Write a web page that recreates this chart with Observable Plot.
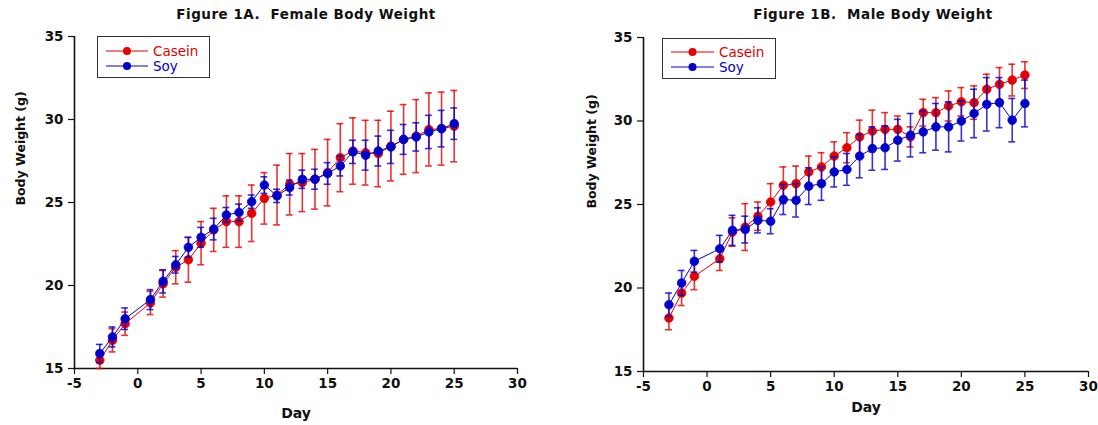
<!DOCTYPE html>
<html>
<head>
<meta charset="utf-8">
<script src="https://cdn.jsdelivr.net/npm/d3@7"></script>
<script src="https://cdn.jsdelivr.net/npm/@observablehq/plot@0.6"></script>
<style>
  html, body { margin: 0; padding: 0; background: #fff; }
  #wrap { position: relative; width: 1098px; height: 425px; overflow: hidden; font-family: "DejaVu Sans", sans-serif; }
  .panel { position: absolute; top: 0; width: 549px; height: 425px; }
  .panel svg { overflow: visible; }
  .title { position: absolute; top: 6px; transform: translateX(-50%); font: bold 13.5px "DejaVu Sans", sans-serif; letter-spacing: 0.5px; white-space: pre; color: #111; }
  .legend { position: absolute; border: 1.5px solid #333; background: #fff; box-sizing: border-box; }
  .item { position: absolute; left: 0; height: 14px; display: flex; align-items: center; font: 13.5px "DejaVu Sans", sans-serif; white-space: nowrap; }
  .item svg { display: block; }
</style>
</head>
<body>
<div id="wrap">
  <div id="A" class="panel" style="left:0"></div>
  <div id="B" class="panel" style="left:549px"></div>
  <div class="title" style="left:306px">Figure 1A.  Female Body Weight</div>
  <div class="title" style="left:873px">Figure 1B.  Male Body Weight</div>
  <div id="legA" class="legend" style="left:97px;top:36px;width:113px;height:42px"></div>
  <div id="legB" class="legend" style="left:662px;top:38px;width:114px;height:41px"></div>
</div>
<script>
// ---- data ----
const days = [-3, -2, -1, 1, 2, 3, 4, 5, 6, 7, 8, 9, 10, 11, 12, 13, 14, 15, 16, 17, 18, 19, 20, 21, 22, 23, 24, 25];

const femaleCasein    = [15.5, 16.7, 17.7, 18.95, 20.1, 21.1, 21.55, 22.55, 23.35, 23.85, 23.85, 24.35, 25.25, 25.45, 26.1, 26.2, 26.4, 26.8, 27.7, 28.1, 28.0, 27.95, 28.4, 28.8, 29.0, 29.4, 29.45, 29.6];
const femaleCaseinErr = [0.5, 0.7, 0.7, 0.7, 0.8, 1.0, 1.35, 1.3, 1.3, 1.55, 1.55, 1.7, 1.55, 1.8, 1.85, 1.75, 1.8, 2.0, 2.05, 2.0, 1.95, 2.0, 2.1, 2.1, 2.2, 2.2, 2.2, 2.15];
const femaleSoy       = [15.9, 16.9, 18.0, 19.15, 20.25, 21.25, 22.3, 22.9, 23.4, 24.25, 24.4, 25.05, 26.05, 25.4, 25.9, 26.4, 26.4, 26.75, 27.2, 28.05, 27.85, 28.1, 28.35, 28.8, 28.95, 29.25, 29.45, 29.75];
const femaleSoyErr    = [0.55, 0.6, 0.65, 0.6, 0.7, 0.5, 0.6, 0.6, 0.65, 0.45, 0.5, 0.4, 0.5, 0.4, 0.45, 0.55, 0.6, 0.65, 0.6, 0.7, 0.9, 0.9, 1.0, 0.9, 0.85, 1.0, 1.1, 0.95];

const maleCasein      = [18.2, 19.7, 20.7, 21.75, 23.35, 23.65, 24.3, 25.15, 26.15, 26.25, 26.95, 27.25, 27.9, 28.4, 29.05, 29.4, 29.5, 29.5, 29.05, 30.5, 30.5, 30.9, 31.15, 31.1, 31.9, 32.2, 32.45, 32.75];
const maleCaseinErr   = [0.7, 0.75, 0.8, 0.7, 0.85, 1.4, 0.85, 1.1, 1.1, 1.05, 0.95, 0.85, 0.85, 0.9, 1.0, 1.25, 1.0, 0.8, 0.6, 0.8, 0.9, 0.9, 0.85, 1.0, 0.9, 1.0, 0.95, 0.8];
const maleSoy         = [19.0, 20.3, 21.6, 22.35, 23.45, 23.5, 24.05, 24.0, 25.3, 25.25, 26.1, 26.25, 26.95, 27.1, 27.9, 28.35, 28.4, 28.85, 29.15, 29.35, 29.65, 29.65, 30.0, 30.45, 31.0, 31.1, 30.05, 31.05];
const maleSoyErr      = [0.7, 0.75, 0.65, 0.8, 0.9, 0.8, 0.75, 0.75, 0.9, 1.0, 1.1, 1.0, 0.9, 0.95, 1.3, 1.3, 1.3, 1.25, 1.3, 1.25, 1.4, 1.5, 1.2, 1.45, 1.6, 1.5, 1.3, 1.4];

const series = ["Casein", "Soy"];
const colors = ["#e60000", "#0000cc"];
const xTicks = [-5, 0, 5, 10, 15, 20, 25, 30];
const yTicks = [15, 20, 25, 30, 35];

function rows(vals, errs, name) {
  return days.map((d, i) => ({day: d, w: vals[i], lo: vals[i] - errs[i], hi: vals[i] + errs[i], s: name}));
}

function seriesMarks(data, color) {
  const cap = 0.27;
  return [
    Plot.line(data, {x: "day", y: "w", stroke: color, strokeWidth: 1}),
    Plot.ruleX(data, {x: "day", y1: "lo", y2: "hi", stroke: color, strokeWidth: 1.6, strokeOpacity: 0.8}),
    Plot.ruleY(data, {y: "hi", x1: d => d.day - cap, x2: d => d.day + cap, stroke: color, strokeWidth: 1.6, strokeOpacity: 0.8}),
    Plot.ruleY(data, {y: "lo", x1: d => d.day - cap, x2: d => d.day + cap, stroke: color, strokeWidth: 1.6, strokeOpacity: 0.8}),
    Plot.dot(data, {x: "day", y: "w", r: 4.3, fill: color, stroke: color, strokeWidth: 0.8})
  ];
}

function panel(opts) {
  const caseinRows = rows(opts.casein, opts.caseinErr, "Casein");
  const soyRows = rows(opts.soy, opts.soyErr, "Soy");
  return Plot.plot({
    width: 549,
    height: 425,
    marginLeft: opts.ml,
    marginRight: opts.mr,
    marginTop: opts.mt,
    marginBottom: opts.mb,
    style: {fontFamily: "'DejaVu Sans', sans-serif", fontSize: "13.5px", fontWeight: "bold", color: "#111", background: "transparent"},
    x: {domain: [-5, 30]},
    y: {domain: [15, 35]},
    marks: [
      Plot.axisX({ticks: xTicks, tickFormat: d => String(d), tickSize: 6, tickPadding: 4, label: null, strokeWidth: 1.2}),
      Plot.axisY({ticks: yTicks, tickFormat: d => String(d), tickSize: 6, tickPadding: 5, label: null, strokeWidth: 1.2}),
      Plot.ruleX([-5], {y1: 15, y2: 35, stroke: "#111", strokeWidth: 1.6}),
      Plot.ruleY([15], {x1: -5, x2: 30, stroke: "#111", strokeWidth: 1.6}),
      Plot.text(["Day"], {frameAnchor: "bottom", dy: opts.dayDy, text: d => d, fontSize: 14, fontWeight: "bold", fill: "#111"}),
      Plot.text(["Body Weight (g)"], {frameAnchor: "left", dx: -opts.ylabOff, dy: opts.ylabDy, rotate: -90, text: d => d, fontSize: 12.5, fontWeight: "bold", fill: "#111"}),
      ...seriesMarks(caseinRows, colors[0]),
      ...seriesMarks(soyRows, colors[1])
    ]
  });
}

document.getElementById("A").append(panel({
  casein: femaleCasein, caseinErr: femaleCaseinErr, soy: femaleSoy, soyErr: femaleSoyErr,
  ml: 74, mr: 32, mt: 36, mb: 57, dayDy: 49, ylabOff: 54, ylabDy: 3
}));
document.getElementById("B").append(panel({
  casein: maleCasein, caseinErr: maleCaseinErr, soy: maleSoy, soyErr: maleSoyErr,
  ml: 94, mr: 10, mt: 37, mb: 54, dayDy: 40, ylabOff: 52, ylabDy: 4
}));

// legends
function legend(el, lineX1, lineX2, textX, y0, y1) {
  series.forEach((name, i) => {
    const item = document.createElement("div");
    item.className = "item";
    item.style.top = ((i === 0 ? y0 : y1) - 7) + "px";
    item.style.left = lineX1 + "px";
    const w = lineX2 - lineX1;
    item.innerHTML = `<svg width="${w}" height="14"><line x1="0" x2="${w}" y1="7" y2="7" stroke="${colors[i]}" stroke-width="1.2"/><circle cx="${w / 2}" cy="7" r="4" fill="${colors[i]}"/></svg><span style="color:${colors[i]};margin-left:${textX - lineX2}px">${name}</span>`;
    el.append(item);
  });
}
legend(document.getElementById("legA"), 8, 50, 55, 14, 28.5);
legend(document.getElementById("legB"), 8, 51, 56, 13, 27.5);
</script>
</body>
</html>
